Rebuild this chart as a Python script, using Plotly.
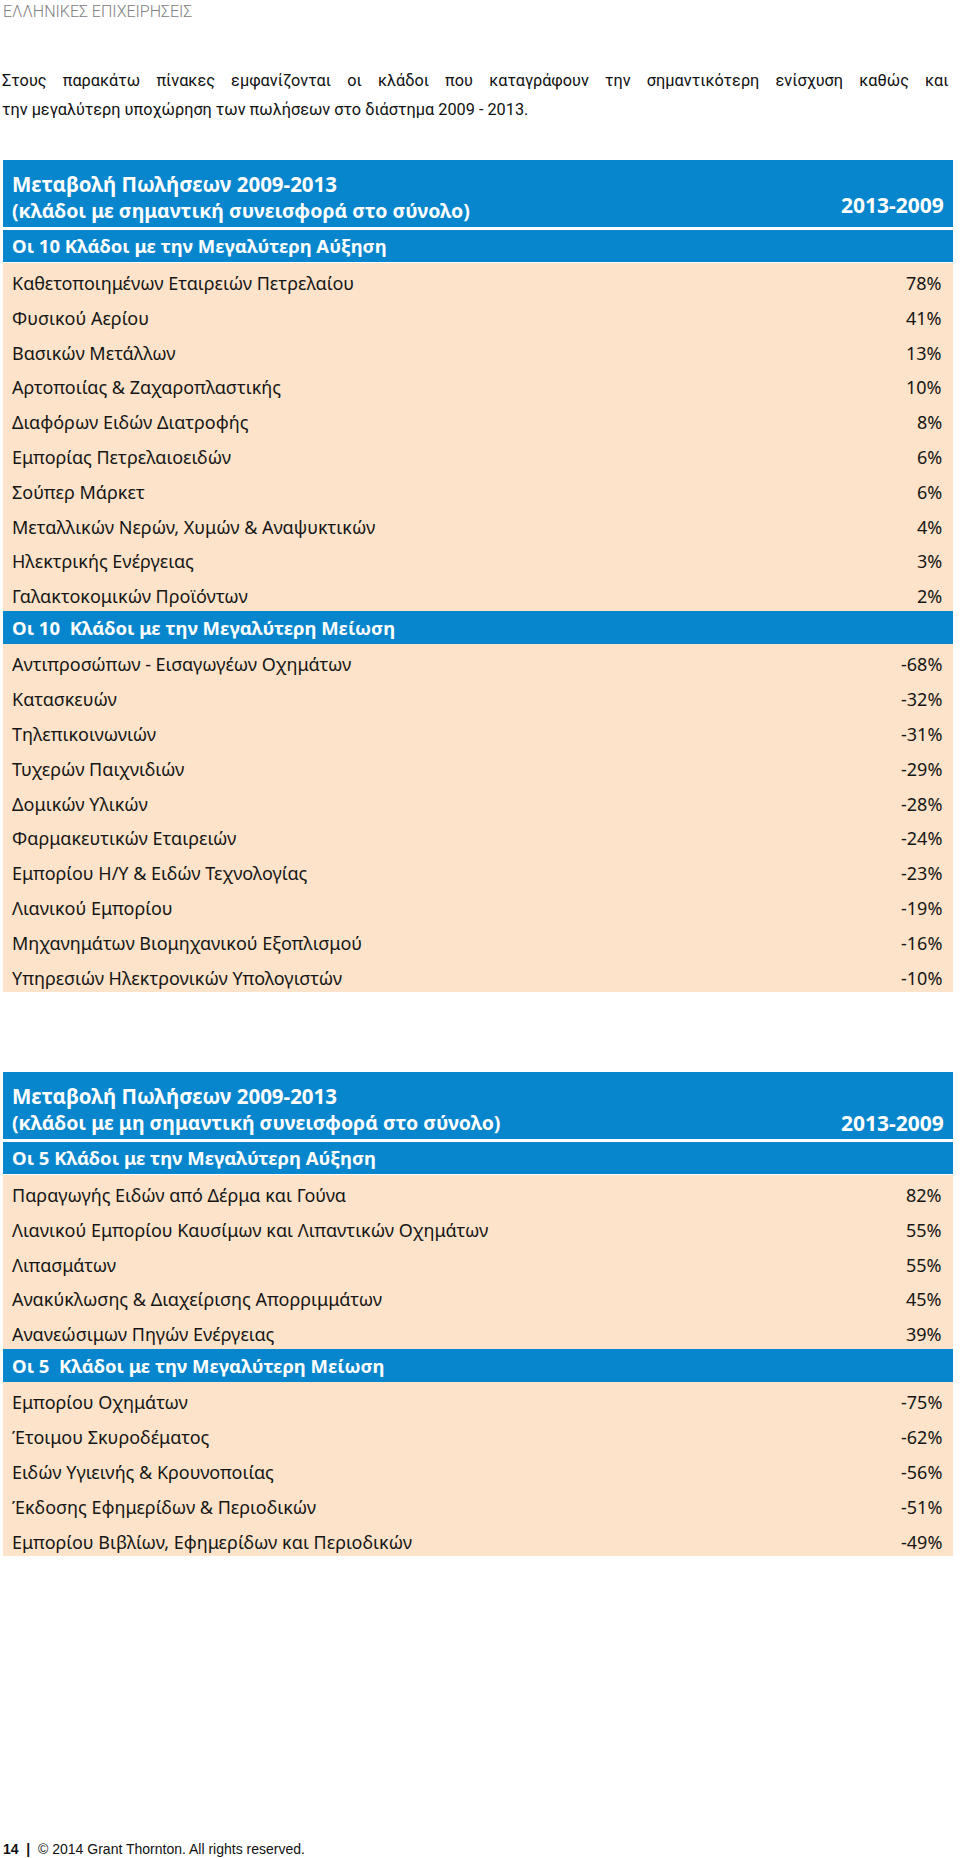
import plotly.graph_objects as go

# ---------------- data ----------------
page_tag = "ΕΛΛΗΝΙΚΕΣ ΕΠΙΧΕΙΡΗΣΕΙΣ"
intro_lines = [
    "Στους παρακάτω πίνακες εμφανίζονται οι κλάδοι που καταγράφουν την σημαντικότερη ενίσχυση καθώς και",
    "την μεγαλύτερη υποχώρηση των πωλήσεων στο διάστημα 2009 - 2013.",
]
footer_page = "14"
footer_text = "© 2014 Grant Thornton. All rights reserved."

t1_title = ["Μεταβολή Πωλήσεων 2009-2013", "(κλάδοι με σημαντική συνεισφορά στο σύνολο)"]
t2_title = ["Μεταβολή Πωλήσεων 2009-2013", "(κλάδοι με μη σημαντική συνεισφορά στο σύνολο)"]
period_label = "2013-2009"

t1_up_title = "Οι 10 Κλάδοι με την Μεγαλύτερη Αύξηση"
t1_up_names = [
    "Καθετοποιημένων Εταιρειών Πετρελαίου",
    "Φυσικού Αερίου",
    "Βασικών Μετάλλων",
    "Αρτοποιίας & Ζαχαροπλαστικής",
    "Διαφόρων Ειδών Διατροφής",
    "Εμπορίας Πετρελαιοειδών",
    "Σούπερ Μάρκετ",
    "Μεταλλικών Νερών, Χυμών & Αναψυκτικών",
    "Ηλεκτρικής Ενέργειας",
    "Γαλακτοκομικών Προϊόντων",
]
t1_up_values = [78, 41, 13, 10, 8, 6, 6, 4, 3, 2]

t1_down_title = "Οι 10  Κλάδοι με την Μεγαλύτερη Μείωση"
t1_down_names = [
    "Αντιπροσώπων - Εισαγωγέων Οχημάτων",
    "Κατασκευών",
    "Τηλεπικοινωνιών",
    "Τυχερών Παιχνιδιών",
    "Δομικών Υλικών",
    "Φαρμακευτικών Εταιρειών",
    "Εμπορίου Η/Υ & Ειδών Τεχνολογίας",
    "Λιανικού Εμπορίου",
    "Μηχανημάτων Βιομηχανικού Εξοπλισμού",
    "Υπηρεσιών Ηλεκτρονικών Υπολογιστών",
]
t1_down_values = [-68, -32, -31, -29, -28, -24, -23, -19, -16, -10]

t2_up_title = "Οι 5 Κλάδοι με την Μεγαλύτερη Αύξηση"
t2_up_names = [
    "Παραγωγής Ειδών από Δέρμα και Γούνα",
    "Λιανικού Εμπορίου Καυσίμων και Λιπαντικών Οχημάτων",
    "Λιπασμάτων",
    "Ανακύκλωσης & Διαχείρισης Απορριμμάτων",
    "Ανανεώσιμων Πηγών Ενέργειας",
]
t2_up_values = [82, 55, 55, 45, 39]

t2_down_title = "Οι 5  Κλάδοι με την Μεγαλύτερη Μείωση"
t2_down_names = [
    "Εμπορίου Οχημάτων",
    "Έτοιμου Σκυροδέματος",
    "Ειδών Υγιεινής & Κρουνοποιίας",
    "Έκδοσης Εφημερίδων & Περιοδικών",
    "Εμπορίου Βιβλίων, Εφημερίδων και Περιοδικών",
]
t2_down_values = [-75, -62, -56, -51, -49]

# ---------------- style / layout ----------------
W, H = 960, 1858
BLUE = "#0786cd"
PEACH = "#fde3c9"
X0, X1 = 3, 953
HEADER_H, SECTION_H, ROW_H, GAP = 67, 33.5, 34.8, 2
BODY_FONT = "Noto Sans, Open Sans, DejaVu Sans, sans-serif"
COND_FONT = "Roboto, Liberation Sans, sans-serif"

bar_y, bar_w, bar_c = [], [], []
annotations = []


def ann(x, y, text, size, color, family, xanchor="left", bold=False, weight=None):
    f = dict(size=size, color=color, family=family)
    if weight:
        f["weight"] = weight
    annotations.append(dict(
        x=x, y=y, xref="x", yref="y", text=f"<b>{text}</b>" if bold else text,
        showarrow=False, xanchor=xanchor, yanchor="middle",
        font=f, borderpad=0,
    ))


def build_table(top, title, period_dy, sections):
    y = top
    # main header
    bar_y.append(y + HEADER_H / 2); bar_w.append(HEADER_H); bar_c.append(BLUE)
    ann(X0 + 8, y + 24, title[0], 20.5, "white", BODY_FONT, bold=True)
    ann(X0 + 8, y + 50, title[1], 19.5, "white", BODY_FONT, bold=True)
    ann(X1 - 8, y + period_dy, period_label, 21, "white", BODY_FONT, xanchor="right", bold=True)
    y += HEADER_H + GAP
    for sec_title, names, values in sections:
        bar_y.append(y + SECTION_H / 2); bar_w.append(SECTION_H - 1); bar_c.append(BLUE)
        ann(X0 + 8, y + SECTION_H / 2, sec_title, 18.5, "white", BODY_FONT, bold=True)
        y += SECTION_H
        for n, v in zip(names, values):
            bar_y.append(y + ROW_H / 2); bar_w.append(ROW_H); bar_c.append(PEACH)
            ann(X0 + 8, y + ROW_H / 2 + 3, n, 18, "#161616", BODY_FONT)
            ann(X1 - 10, y + ROW_H / 2 + 3, f"{v}%", 18, "#161616", BODY_FONT, xanchor="right")
            y += ROW_H
    return y


build_table(160, t1_title, 45, [
    (t1_up_title, t1_up_names, t1_up_values),
    (t1_down_title, t1_down_names, t1_down_values),
])
build_table(1072, t2_title, 51, [
    (t2_up_title, t2_up_names, t2_up_values),
    (t2_down_title, t2_down_names, t2_down_values),
])

fig = go.Figure(go.Bar(
    orientation="h", y=bar_y, x=[X1 - X0] * len(bar_y), base=[X0] * len(bar_y),
    width=bar_w, marker=dict(color=bar_c, line=dict(width=0)), hoverinfo="skip",
))

# page texts
ann(2, 11, page_tag, 16, "#808080", COND_FONT, weight=300)
# first paragraph line is justified in the reference: widen inter-word gaps
justified = (" " + "\u00a0" * 3).join(intro_lines[0].split(" "))
ann(1, 80, justified, 16.3, "#111111", COND_FONT)
ann(1, 109, intro_lines[1], 16.3, "#111111", COND_FONT)
ann(2, 1849, f"<b>{footer_page}</b>  <b>|</b>  {footer_text}", 14, "#111111",
    "Liberation Sans, Arial, sans-serif")

fig.update_layout(
    width=W, height=H, margin=dict(l=0, r=0, t=0, b=0),
    paper_bgcolor="white", plot_bgcolor="white", showlegend=False,
    xaxis=dict(range=[0, W], visible=False, fixedrange=True),
    yaxis=dict(range=[H, 0], visible=False, fixedrange=True),
    annotations=annotations, bargap=0,
)
fig.write_html(
    "out.html",
    config={"displayModeBar": False},
    post_script="document.body.style.margin='0';document.body.style.overflow='hidden';",
)
